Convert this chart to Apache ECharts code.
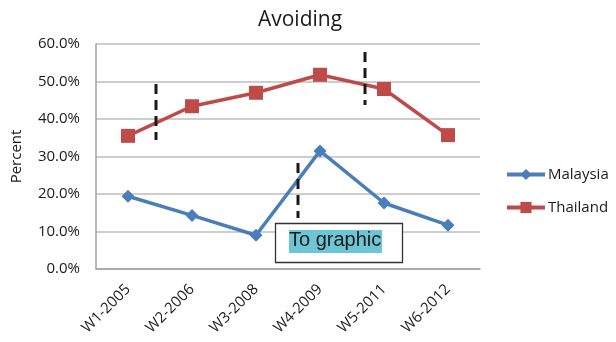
<!DOCTYPE html>
<html>
<head>
<meta charset="utf-8">
<script src="https://cdn.jsdelivr.net/npm/echarts@6/dist/echarts.min.js"></script>
<style>
html,body{margin:0;padding:0;background:#fff;}
#c{width:616px;height:342px;}
</style>
</head>
<body>
<div id="c"></div>
<script>
var categories = ['W1-2005','W2-2006','W3-2008','W4-2009','W5-2011','W6-2012'];
var malaysia = [19.4, 14.3, 9.0, 31.5, 17.6, 11.7];
var thailand = [35.5, 43.4, 47.0, 51.8, 48.0, 35.7];
var yTicks = [0, 10, 20, 30, 40, 50, 60];

var chart = echarts.init(document.getElementById('c'), null, {renderer:'canvas'});
var font = '"Open Sans", "Noto Sans", sans-serif';
var diamond = 'path://M0,-1L1,0L0,1L-1,0Z';

chart.setOption({
  animation: false,
  backgroundColor: '#ffffff',
  title: {
    text: 'Avoiding',
    left: 295, top: 5, textAlign: 'center',
    textStyle: {fontFamily: font, fontSize: 21, fontWeight: 'normal', color: '#1a1a1a'}
  },
  legend: {
    orient: 'vertical',
    left: 505, top: 167, padding: 0,
    itemWidth: 38, itemHeight: 14, itemGap: 18,
    lineStyle: {width: 4},
    textStyle: {fontFamily: font, fontSize: 15, color: '#1a1a1a', padding: [0,0,0,-2]},
    data: ['Malaysia', 'Thailand']
  },
  grid: {left: 96, right: 136, top: 44, bottom: 73, containLabel: false},
  xAxis: {
    type: 'category',
    data: categories,
    boundaryGap: true,
    axisLine: {lineStyle: {color: '#a0a0a0', width: 1.5}},
    axisTick: {show: false},
    axisLabel: {rotate: 45, margin: 18, fontFamily: font, fontSize: 15, color: '#1a1a1a', interval: 0},
    splitLine: {show: false}
  },
  yAxis: {
    type: 'value',
    min: yTicks[0], max: yTicks[yTicks.length-1], interval: 10,
    name: 'Percent',
    nameLocation: 'middle',
    nameGap: 72,
    nameTextStyle: {fontFamily: font, fontSize: 15, color: '#1a1a1a'},
    axisLine: {show: true, lineStyle: {color: '#a0a0a0', width: 1.5}},
    axisTick: {show: false},
    axisLabel: {margin: 16, fontFamily: font, fontSize: 15, color: '#1a1a1a',
      formatter: function(v){ return v.toFixed(1) + '%'; }},
    splitLine: {lineStyle: {color: '#bdbdbd', width: 1.5}}
  },
  series: [
    {
      name: 'Malaysia', type: 'line', data: malaysia,
      symbol: diamond, symbolSize: 13,
      lineStyle: {color: '#4a7ebb', width: 3.5},
      itemStyle: {color: '#4a7ebb'}
    },
    {
      name: 'Thailand', type: 'line', data: thailand,
      symbol: 'rect', symbolSize: 14,
      lineStyle: {color: '#be4b48', width: 3.5},
      itemStyle: {color: '#be4b48'}
    }
  ],
  graphic: [
    {type: 'line', shape: {x1: 156, y1: 84, x2: 156, y2: 140}, style: {stroke: '#1a1a1a', lineWidth: 3, lineDash: [10, 6]}, z: 100},
    {type: 'line', shape: {x1: 365, y1: 52, x2: 365, y2: 105}, style: {stroke: '#1a1a1a', lineWidth: 3, lineDash: [10, 6]}, z: 100},
    {type: 'line', shape: {x1: 298, y1: 163, x2: 298, y2: 218}, style: {stroke: '#1a1a1a', lineWidth: 3, lineDash: [10, 6]}, z: 100},
    {type: 'rect', shape: {x: 275.5, y: 223.5, width: 127, height: 39}, style: {fill: '#ffffff', stroke: '#333333', lineWidth: 1.3}, z: 100},
    {type: 'rect', shape: {x: 289, y: 230, width: 93, height: 23}, style: {fill: '#6cc6d6'}, z: 101},
    {type: 'text', left: 289, top: 230, style: {text: 'To graphic', fill: '#1a1a1a', font: '20px "Liberation Sans", Arial, sans-serif'}, z: 102}
  ]
});
</script>
</body>
</html>
